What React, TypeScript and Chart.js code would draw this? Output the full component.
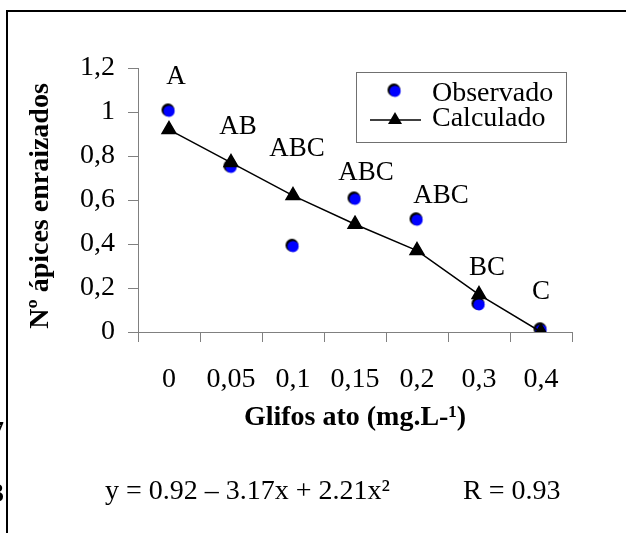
import React, { useEffect, useRef } from "react";
import { Chart, registerables } from "chart.js";

Chart.register(...registerables);

const categories = ["0", "0,05", "0,1", "0,15", "0,2", "0,3", "0,4"];
const observado = [1.005, 0.75, 0.39, 0.605, 0.51, 0.125, 0.01];
const calculado = [0.92, 0.77, 0.62, 0.49, 0.37, 0.17, 0.0];
const letters = ["A", "AB", "ABC", "ABC", "ABC", "BC", "C"];
const letterY = [1.16, 0.93, 0.83, 0.725, 0.62, 0.29, 0.18];
const letterDx = [7, 7, 4, 11, 24, 8, 0];
const yTicks = [0, 0.2, 0.4, 0.6, 0.8, 1.0, 1.2];

const SERIF = "'Liberation Serif', 'Times New Roman', serif";
const FS = 28;

const fmt = (v: number) => {
  const r = Math.round(v * 10) / 10;
  return String(r).replace(".", ",");
};

function makeDot(): HTMLCanvasElement {
  const c = document.createElement("canvas");
  c.width = 17;
  c.height = 17;
  const g = c.getContext("2d")!;
  g.beginPath();
  g.arc(7.5, 7.5, 6.5, 0, Math.PI * 2);
  g.fillStyle = "#000";
  g.fill();
  g.beginPath();
  g.arc(8.6, 8.8, 5.6, 0, Math.PI * 2);
  g.fillStyle = "#0000ff";
  g.fill();
  return c;
}

export default function App() {
  const ref = useRef<HTMLCanvasElement | null>(null);
  useEffect(() => {
    if (!ref.current) return;
    const dot = makeDot();
    const decor = {
      id: "decor",
      beforeDraw(chart: any) {
        const ctx = chart.ctx;
        ctx.save();
        ctx.fillStyle = "#ffffff";
        ctx.fillRect(0, 0, chart.width, chart.height);
        ctx.restore();
      },
      afterDraw(chart: any) {
        const ctx = chart.ctx;
        const xs = chart.scales.x;
        const ys = chart.scales.y;
        ctx.save();
        ctx.fillStyle = "#000";
        ctx.fillRect(6, 10, 620, 2);
        ctx.fillRect(6, 10, 2, 523);

        ctx.font = `27px ${SERIF}`;
        ctx.textAlign = "center";
        ctx.textBaseline = "middle";
        ctx.fillStyle = "#000";
        letters.forEach((t, i) => {
          ctx.fillText(t, xs.getPixelForValue(i) + letterDx[i], ys.getPixelForValue(letterY[i]));
        });

        ctx.save();
        ctx.translate(41, 206);
        ctx.rotate(-Math.PI / 2);
        ctx.font = `bold ${FS}px ${SERIF}`;
        ctx.fillText("Nº ápices enraizados", 0, 0);
        ctx.restore();

        ctx.font = `bold ${FS}px ${SERIF}`;
        ctx.fillText("Glifos ato (mg.L-¹)", 355, 418);

        ctx.font = `${FS}px ${SERIF}`;
        ctx.textAlign = "left";
        ctx.fillText("y = 0.92 – 3.17x + 2.21x²", 105, 492);
        ctx.fillText("R = 0.93", 463, 492);

        ctx.font = `bold ${FS}px ${SERIF}`;
        ctx.textAlign = "right";
        ctx.fillText("7", 4, 433);
        ctx.fillText("3", 4, 495);

        // legend
        ctx.strokeStyle = "#707070";
        ctx.lineWidth = 1;
        ctx.strokeRect(356.5, 72.5, 210, 70);
        ctx.drawImage(dot, 395 - 8.5, 91 - 8.5);
        ctx.beginPath();
        ctx.moveTo(370, 120);
        ctx.lineTo(421, 120);
        ctx.lineWidth = 1.5;
        ctx.strokeStyle = "#000";
        ctx.stroke();
        ctx.beginPath();
        ctx.moveTo(395, 112);
        ctx.lineTo(402, 124);
        ctx.lineTo(388, 124);
        ctx.closePath();
        ctx.fillStyle = "#000";
        ctx.fill();
        ctx.font = `${FS}px ${SERIF}`;
        ctx.textAlign = "left";
        ctx.textBaseline = "middle";
        ctx.fillText("Observado", 432, 94);
        ctx.fillText("Calculado", 432, 119);
        ctx.restore();
      },
    };
    const chart = new Chart(ref.current, {
      type: "line",
      data: {
        labels: categories,
        datasets: [
          {
            label: "Calculado",
            data: calculado,
            borderColor: "#000",
            borderWidth: 1.5,
            backgroundColor: "#000",
            pointStyle: "triangle",
            pointRadius: 8,
            pointBackgroundColor: "#000",
            pointBorderColor: "#000",
            tension: 0,
          },
          {
            label: "Observado",
            data: observado,
            showLine: false,
            pointStyle: dot as any,
            pointRadius: 7,
          },
        ],
      },
      options: {
        animation: false,
        responsive: true,
        maintainAspectRatio: false,
        layout: { padding: { left: 0, right: 54, top: 68, bottom: 0 } },
        plugins: { legend: { display: false }, tooltip: { enabled: false } },
        scales: {
          x: {
            type: "category",
            offset: true,
            grid: {
              offset: true,
              drawOnChartArea: false,
              drawTicks: true,
              tickLength: 10,
              color: "#808080",
            },
            border: { color: "#808080", width: 1 },
            ticks: {
              color: "#000",
              font: { family: SERIF, size: FS },
              padding: 21,
              maxRotation: 0,
            },
            afterFit(scale: any) {
              scale.height = 201;
            },
          },
          y: {
            min: 0,
            max: 1.2,
            afterBuildTicks(scale: any) {
              scale.ticks = yTicks.map((v) => ({ value: v }));
            },
            grid: {
              drawOnChartArea: false,
              drawTicks: true,
              tickLength: 10,
              color: "#808080",
            },
            border: { color: "#808080", width: 1 },
            ticks: {
              color: "#000",
              font: { family: SERIF, size: FS },
              padding: 13,
              callback: (v: any) => fmt(Number(v)),
            },
            afterFit(scale: any) {
              scale.width = 138;
            },
          },
        },
      },
      plugins: [decor],
    });
    return () => chart.destroy();
  }, []);
  return (
    <div style={{ position: "absolute", left: 0, top: 0, width: 626, height: 533 }}>
      <canvas ref={ref} />
    </div>
  );
}
